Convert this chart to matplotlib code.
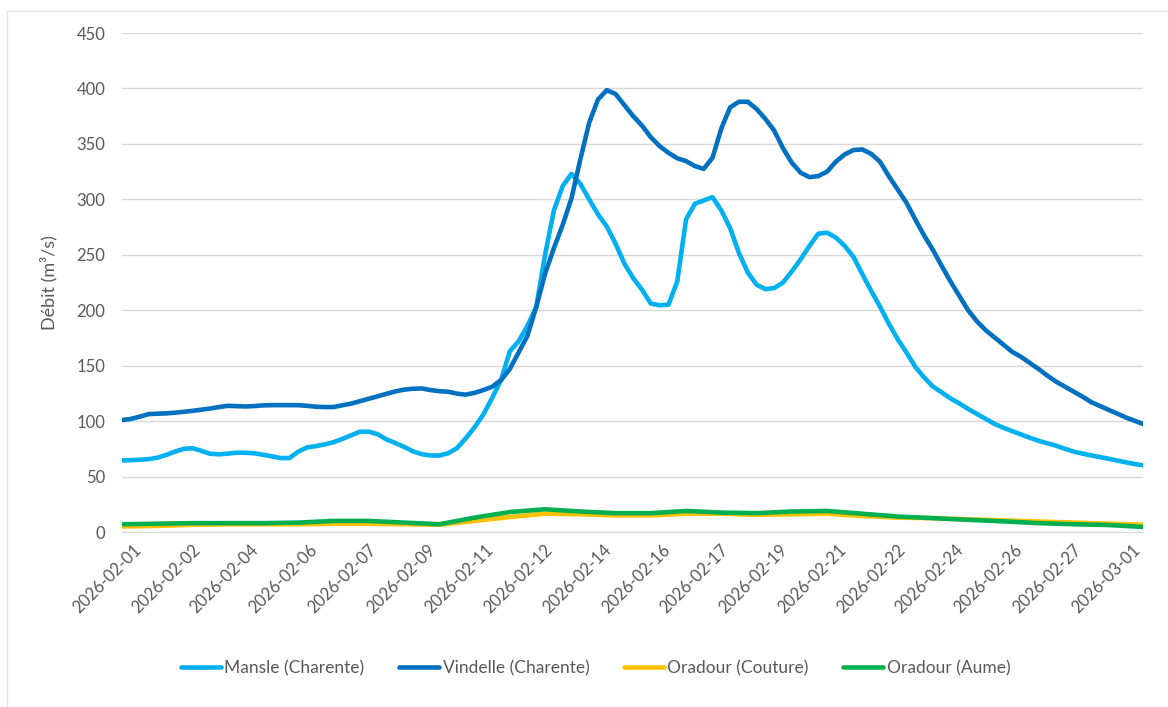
import pandas as pd
import matplotlib
matplotlib.use('Agg')
import matplotlib.pyplot as plt
import matplotlib.transforms as mtrans
from matplotlib.lines import Line2D

# hourly river flow, read every 6 h (Mansle, Vindelle) and every 24 h (Oradour)
t_fine = pd.date_range('2026-02-01 00:00', periods=117, freq='6h')
t_day = pd.date_range('2026-02-01 00:00', periods=30, freq='24h')

mansle = [64.5, 64.8, 65.2, 65.7, 67, 69.5, 72.5, 75, 75.6, 73.2,
          70.5, 70.1, 70.7, 71.5, 71.5, 71, 69.7, 68.2, 66.7, 66.7,
          72.5, 76.3, 77.5, 79, 81, 84, 87.2, 90.5, 90.5, 88.2,
          83.5, 80.3, 76.8, 72.8, 70.2, 69, 69, 71, 75.6, 84.5,
          94.5, 106, 121, 137, 163, 172, 186, 203, 250, 290,
          312, 323, 314, 300, 286.5, 275.5, 260, 242, 229, 218.5,
          206, 204.5, 205, 226, 282, 296, 299, 302, 290, 274,
          251.5, 234, 223, 219, 220, 225, 235, 246, 258, 269,
          270, 265.5, 258, 248, 232.5, 217.5, 203.3, 188, 174, 162,
          149, 139.5, 131.2, 126, 120.5, 116, 111, 106.5, 102, 97.5,
          94, 91, 88, 85, 82.3, 80, 77.8, 75, 72.5, 70.7,
          69, 67.5, 66, 64.3, 62.7, 61.2, 60]

vindelle = [101, 102, 104, 106.3, 106.7, 107, 107.6, 108.4, 109.3, 110.3,
            111.4, 112.7, 113.8, 113.5, 113.2, 113.6, 114.2, 114.4, 114.4, 114.4,
            114.4, 113.8, 113, 112.7, 112.7, 114.3, 115.8, 118, 120.2, 122.4,
            124.6, 126.8, 128.4, 129.2, 129.5, 128, 127, 126.5, 124.8, 123.9,
            125.5, 128, 131, 137, 147, 162, 177, 203, 233, 256,
            277, 301, 336, 369, 390, 398.5, 395, 385, 375, 366.5,
            356, 348, 342, 337, 334.5, 330, 327.5, 337.5, 364, 383,
            388, 388, 381.5, 372.5, 362, 346, 333, 324, 320, 321,
            325, 334, 340.5, 344.5, 345, 341, 334, 321, 309, 297,
            282, 267.5, 254.5, 240, 226, 213, 200, 190, 182, 175.5,
            169, 162.5, 158, 152.5, 147, 141, 135.5, 131, 126.5, 122,
            117, 113.5, 110, 106.5, 103, 100, 97]

couture = [5, 5.5, 6.5, 7, 7, 7, 7.5, 7.5, 7, 6.5,
           10, 13.5, 16.5, 16, 15, 15, 16.5, 16.5, 15.5, 16,
           16.5, 14.5, 13, 12.5, 11.5, 10.5, 9.5, 8.5, 7.5, 6.5]

aume = [7, 7.5, 8, 8, 8, 8.5, 10, 10, 8.5, 7,
        13, 18, 20.5, 18.5, 17, 17, 19, 17.5, 17, 18.5,
        19, 16.5, 14, 12.5, 11, 9.6, 8, 7, 6.3, 4.5]

tick_dates = pd.date_range('2026-02-01 00:00', periods=18, freq='40h')
tick_labels = [d.strftime('%Y-%m-%d') for d in tick_dates]

grey = '#595959'
plt.rcParams['font.family'] = ['Lato', 'DejaVu Sans']

fig = plt.figure(figsize=(11.68, 7.07), dpi=100)
ax = fig.add_axes([0.1045, 0.2475, 0.874, 0.7058])

ax.plot(t_fine, mansle, color='#00B0F0', lw=3.3, label='Mansle (Charente)', solid_capstyle='round')
ax.plot(t_fine, vindelle, color='#0070C0', lw=3.3, label='Vindelle (Charente)', solid_capstyle='round')
ax.plot(t_day, couture, color='#FFC000', lw=3.3, label='Oradour (Couture)', solid_capstyle='round')
ax.plot(t_day, aume, color='#00B050', lw=3.3, label='Oradour (Aume)', solid_capstyle='round')

ax.set_xlim(pd.Timestamp('2026-02-01 00:00'), pd.Timestamp('2026-03-01 23:00'))
ax.set_ylim(0, 450)
ax.set_yticks(range(0, 451, 50))
ax.set_xticks(tick_dates)
ax.set_xticklabels(tick_labels, rotation=45, ha='right', va='top', rotation_mode='anchor')
ax.tick_params(axis='y', length=0, pad=12, labelsize=12, labelcolor=grey)
ax.tick_params(axis='x', length=0, pad=7, labelsize=12, labelcolor=grey)
shift = mtrans.ScaledTranslation(0.11, 0, fig.dpi_scale_trans)
for lab in ax.get_xticklabels():
    lab.set_transform(lab.get_transform() + shift)
ax.grid(axis='y', color='#D9D9D9', lw=1)
ax.set_axisbelow(True)
for s in ['top', 'right', 'left']:
    ax.spines[s].set_visible(False)
ax.spines['bottom'].set_color('#D9D9D9')
ax.set_ylabel('Débit (m³/s)', fontsize=13, color=grey, labelpad=14)

fig.legend(loc='center', bbox_to_anchor=(0.51, 0.055), ncol=4, frameon=False,
           fontsize=12.5, labelcolor=grey, handlelength=2.3, handletextpad=0.2,
           columnspacing=2.0)

# chart frame (only top and left edges are visible)
fig.add_artist(Line2D([7 / 1168, 1], [1 - 11 / 707, 1 - 11 / 707], color='#E6E6E6', lw=1))
fig.add_artist(Line2D([7 / 1168, 7 / 1168], [0, 1 - 11 / 707], color='#E6E6E6', lw=1))

fig.savefig('out.png', dpi=100)
